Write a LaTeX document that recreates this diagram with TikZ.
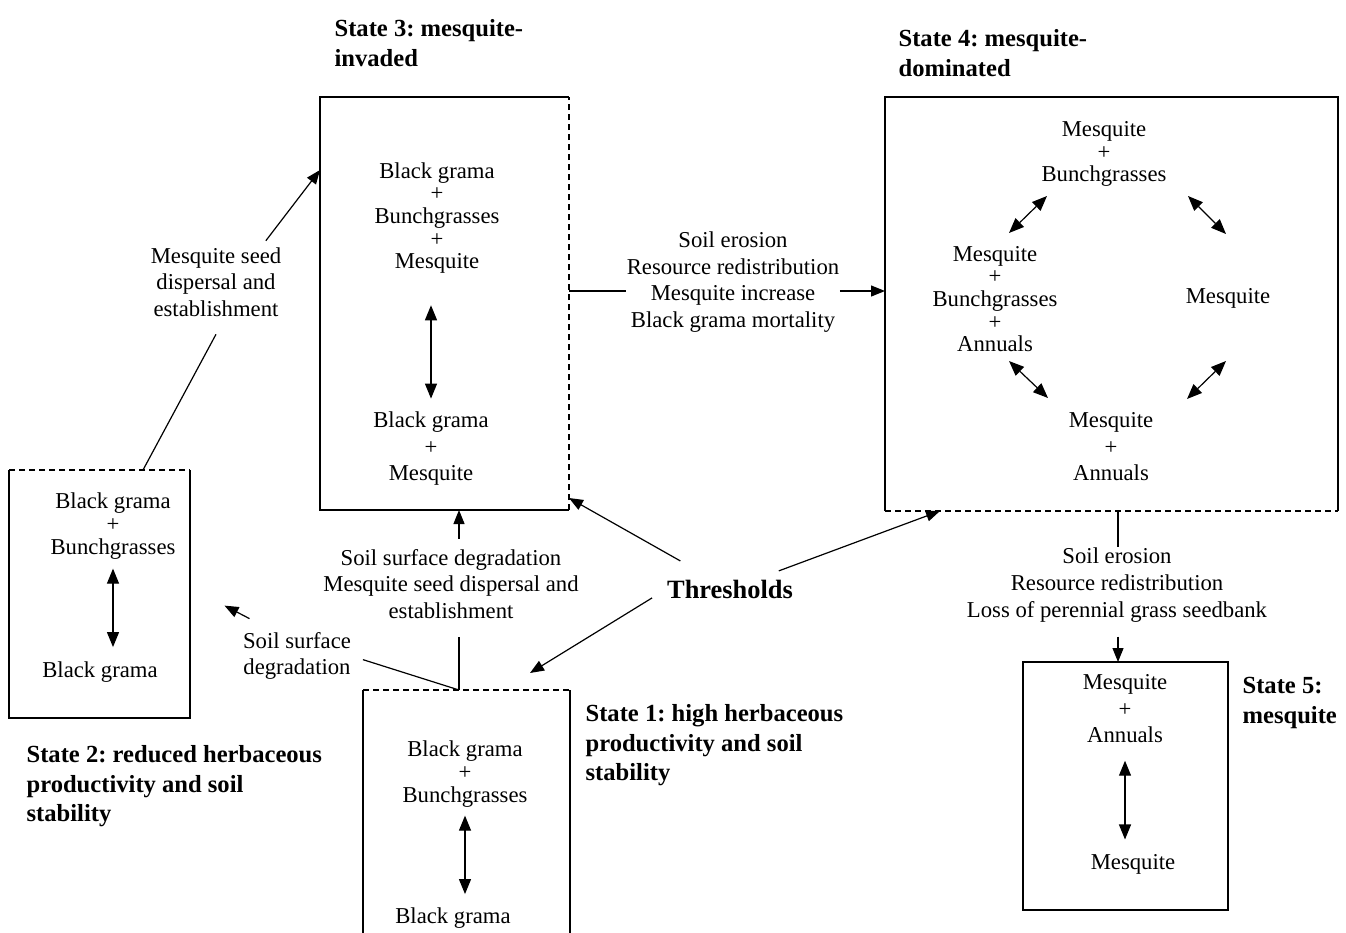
\documentclass[tikz,border=0pt]{standalone}
\usepackage{fontspec}
\setmainfont{Liberation Serif}
\usetikzlibrary{arrows.meta}
\frenchspacing

\tikzset{
  species/.style={align=center, inner sep=0pt, font=\fontsize{22.7}{22.7}\selectfont},
  spaced/.style={align=center, inner sep=0pt, font=\fontsize{22.7}{26.5}\selectfont},
  cause/.style={align=center, inner sep=0pt, font=\fontsize{22.7}{26.7}\selectfont},
  title/.style={align=left, inner sep=0pt, anchor=north west, font=\fontsize{24.6}{29.5}\selectfont\bfseries},
  statebox/.style={inner sep=0pt, outer sep=0pt},
  flow/.style={-{Triangle[length=14pt,width=11pt]}},
  twoway/.style={{Triangle[length=15pt,width=12pt]}-{Triangle[length=15pt,width=12pt]}},
  dashside/.style={dash pattern=on 6pt off 4pt}
}

\begin{document}
\begin{tikzpicture}[x=1pt, y=-1pt, line width=1.2pt]

% Page size
\useasboundingbox (0,0) rectangle (1346,932);

% State boxes
\node[statebox, minimum width=249pt, minimum height=413pt] (s3) at (444.5,303.5) {};
\node[statebox, minimum width=453pt, minimum height=414pt] (s4) at (1111.5,304) {};
\node[statebox, minimum width=181pt, minimum height=248pt] (s2) at (99.5,594) {};
\node[statebox, minimum width=207pt, minimum height=250pt] (s1) at (466.5,815) {};
\node[statebox, draw, minimum width=205pt, minimum height=248pt] (s5) at (1125.5,786) {};

% Box outlines (some sides dashed)
\draw (s3.north east) -- (s3.north west) -- (s3.south west) -- (s3.south east);
\draw[dashside] (s3.south east) -- (s3.north east);
\draw (s4.south west) -- (s4.north west) -- (s4.north east) -- (s4.south east);
\draw[dashside] (s4.south west) -- (s4.south east);
\draw[dashside] (s2.north west) -- (s2.north east);
\draw (s2.north east) -- (s2.south east) -- (s2.south west) -- (s2.north west);
\draw (s1.south west) -- (s1.north west);
\draw[dashside] (s1.north west) -- (s1.north east);
\draw (s1.north east) -- (s1.south east);

% State titles
\node[title] (t3) at (334,19) {State 3: mesquite-\\invaded};
\node[title] (t4) at (898,29) {State 4: mesquite-\\dominated};
\node[title] (t2) at (26,745) {State 2: reduced herbaceous\\productivity and soil\\stability};
\node[title] (t1) at (585,704) {State 1: high herbaceous\\productivity and soil\\stability};
\node[title] (t5) at (1242,677) {State 5:\\mesquite};

% Community phases inside the boxes
\node[species] (s3a) at (437,218) {Black grama\\+\\Bunchgrasses\\+\\Mesquite};
\node[spaced] (s3b) at (431,449) {Black grama\\+\\Mesquite};
\node[species] (s4t) at (1104,154) {Mesquite\\+\\Bunchgrasses};
\node[species] (s4l) at (995,299) {Mesquite\\+\\Bunchgrasses\\+\\Annuals};
\node[species] (s4r) at (1228,298) {Mesquite};
\node[spaced] (s4b) at (1111,447) {Mesquite\\+\\Annuals};
\node[species] (s2a) at (113,526) {Black grama\\+\\Bunchgrasses};
\node[species] (s2b) at (100,672) {Black grama};
\node[species] (s1a) at (465,774) {Black grama\\+\\Bunchgrasses};
\node[species] (s1b) at (453,918) {Black grama};
\node[spaced] (s5a) at (1125,709) {Mesquite\\+\\Annuals};
\node[species] (s5b) at (1133,864) {Mesquite};

% Phase shifts within states
\draw[twoway, shorten <=31pt, shorten >=13pt] (s3a.south -| s3b) -- (s3b.north);
\draw[twoway, shorten <=9pt, shorten >=14pt] (s2a.south) -- (s2a.south |- s2b.north);
\draw[twoway, shorten <=8pt, shorten >=13pt] (s1a.south) -- (s1a.south |- s1b.north);
\draw[twoway, shorten <=17pt, shorten >=14pt] (s5a.south) -- (s5a.south |- s5b.north);
\coordinate (d1) at (1047,196);
\coordinate (d2) at (1009,233);
\coordinate (d3) at (1188,196);
\coordinate (d4) at (1226,234);
\coordinate (d5) at (1009,361);
\coordinate (d6) at (1048,398);
\coordinate (d7) at (1226,361);
\coordinate (d8) at (1187,399);
\draw[twoway] (d1) -- (d2);
\draw[twoway] (d3) -- (d4);
\draw[twoway] (d5) -- (d6);
\draw[twoway] (d7) -- (d8);

% Transition drivers
\node[cause] (c23) at (216,282) {Mesquite seed\\dispersal and\\establishment};
\node[cause] (c34) at (733,282) {Soil erosion\\Resource redistribution\\Mesquite increase\\Black grama mortality};
\node[cause] (c13) at (451,584) {Soil surface degradation\\Mesquite seed dispersal and\\establishment};
\node[cause] (c12) at (297,656) {Soil surface\\degradation};
\node[cause] (c45) at (1117,585) {Soil erosion\\Resource redistribution\\Loss of perennial grass seedbank};
\node[inner sep=0pt, font=\fontsize{26.4}{26.4}\selectfont\bfseries] (th) at (730,589) {Thresholds};

% State 2 -> State 3
\coordinate (j2) at ([xshift=43.5pt]s2.north);
\draw (j2) -- ([yshift=-17pt]c23.south);
\draw[flow] ([shift={(-16,-6)}]c23.north east) -- ([yshift=-73pt]s3.north west);

% State 1 -> State 3 and State 1 -> State 2
\coordinate (j1) at ([xshift=-7.5pt]s1.north);
\draw[shorten >=18pt] (j1) -- (j1 |- c13.south);
\draw[flow, shorten <=10pt] (j1 |- c13.north) -- (j1 |- s3.south);
\draw[shorten >=12pt] (j1) -- (c12.east);
\coordinate (g12) at ([shift={(-18,-26)}]c12.north west);
\draw[flow] ([shift={(7,-13)}]c12.north west) -- (g12);

% State 3 -> State 4
\coordinate (l34) at ([yshift=12.5pt]s3.east);
\draw (l34) -- (l34 -| c34.west);
\draw[flow] (l34 -| c34.east) -- (l34 -| s4.west);

% State 4 -> State 5
\coordinate (l45) at ([xshift=-7.5pt]s5.north);
\draw (l45 |- s4.south) -- (l45 |- c45.north);
\draw[flow, shorten <=14pt] (l45 |- c45.south) -- (l45);

% Thresholds
\coordinate (g1) at ([shift={(-40,-17)}]s1.north east);
\draw[flow, shorten <=57pt] (th.center) -- ([yshift=12pt]s3.south east);
\draw[flow, shorten <=52pt] (th.center) -- ([xshift=55pt]s4.south west);
\draw[flow, shorten <=17pt] (th.west) -- (g1);

\end{tikzpicture}
\end{document}
